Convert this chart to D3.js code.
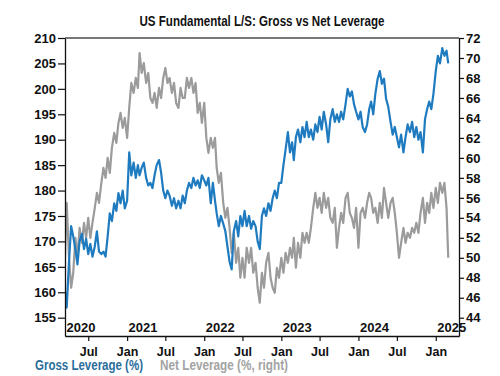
<!DOCTYPE html>
<html>
<head>
<meta charset="utf-8">
<script src="https://cdn.jsdelivr.net/npm/d3@7"></script>
<style>
  body { margin: 0; background: #fff; }
  svg { display: block; }
  .lbl { font-family: "Liberation Sans", Arial, sans-serif; font-weight: bold; }
</style>
</head>
<body>
<svg id="chart"></svg>
<script>
// one value every 10 days (1st, 11th, 21st of each month), from 11 Mar 2020 to 1 Mar 2025
const firstDate = "2020-03-11";
const lastDate = "2025-03-01";

// gross leverage (%), left axis
const gross = [
  161, 157,
  166, 173, 171,   168.5, 165.5, 170,   171.5, 168.5, 170.5,
  167.5, 169.5, 167,   169, 172, 168,   167.5, 168, 167,
  171, 175.5, 174,   177.5, 176, 179.5,   177.5, 180, 176.5,
  // 2021
  178, 187.5, 183,   185.5, 182.5, 185,   183, 184.5, 185.5,
  182.5, 181, 181.5,   180.5, 183, 185,   186, 183.5, 180,
  178.5, 180, 179,   177, 178.5, 176.5,   178, 176.5, 179,
  177.5, 180, 181.5,   180.5, 182.5, 181,   182, 180.5, 183,
  // 2022
  182, 181, 182.5,   177.5, 181.5, 178,   175.5, 173, 175,
  173.5, 172, 169,   166, 164.5, 172,   174, 171, 175,
  173, 176, 173,   175, 172.5, 174,   173, 170, 168.5,
  175, 176.5, 175,   177.5, 176, 178.5,   180, 178.5, 181.5,
  // 2023
  181.5, 185, 188,   191.5, 187.5, 189.5,   186, 190.5, 192,
  189.5, 192.5, 190.5,   193.5, 190.5, 192,   190, 193, 191.5,
  194.5, 192, 195.5,   193, 189.5, 194,   196, 193.5, 195,
  193.5, 195.5, 194,   197, 200, 198.5,   199.5, 197, 195.5,
  // 2024
  194, 195.5, 192.5,   191.5, 193, 196,   197.5, 195, 199,
  202, 203.5, 201,   202, 198, 196.5,   193.5, 191, 192.5,
  190.5, 188.5, 191,   187.5, 190.5, 193,   191.5, 193.5, 190.5,
  192.5, 190, 191.5,   187.5, 194, 196,   197.5, 196, 199,
  // 2025
  203.5, 206.5, 205,   208, 206.5, 207.5,
  205
];

// net leverage (%), right axis
const net = [
  49, 55.5,
  50, 47, 48.5,   52, 50, 53,   51.5, 53.5, 52,
  54, 52, 53.5,   55, 56.5, 55.5,   57.5, 59, 58,
  60, 58.5, 61,   62.5, 61.5, 63.5,   64.5, 63, 64,
  // 2021
  62, 65, 67.5,   66.5, 68, 67,   70.5, 68.5, 69.5,
  67.5, 68.5, 66,   65.5, 66.5, 65,   67, 66, 68,
  69, 67.5, 68,   66.5, 67.5, 65.5,   65, 67, 66,
  66, 68, 67,   68, 66.5, 67.5,   64.5, 65.5, 63.5,
  // 2022
  65.5, 62, 60.5,   62, 61, 62,   59, 57.5, 58.5,
  55.5, 54, 55,   53, 50.5, 52.5,   49.5, 51, 48,
  50, 48, 51,   49.5, 51, 48.5,   49.5, 47, 45.5,
  48.5, 47, 49.5,   50.5, 48, 47,   46.5, 49, 48,
  // 2023
  50, 48.5, 50.5,   49.5, 51, 50,   52, 49, 51.5,
  50, 52.5, 51.5,   52.5, 51.5, 53,   55, 56.5, 55,
  56, 54.5, 56.5,   55, 56, 54,   53.5, 55, 51,
  53, 54.5, 53.5,   56, 56.5, 54.5,   54, 53, 55,
  // 2024
  51, 54.5, 55,   54, 55.5, 56.5,   56, 54.5, 55,
  53.5, 55.5, 54,   57, 55.5, 54,   55.5, 56, 54.5,
  52.5, 50, 51.5,   53, 51.5, 52.5,   52, 53, 52.5,
  53.5, 52.5, 54.5,   56, 53.5, 55.5,   54.5, 56.5, 55,
  // 2025
  57, 55.5, 57.5,   56.5, 57.5, 55,
  50
];

const leftTicks = [155, 160, 165, 170, 175, 180, 185, 190, 195, 200, 205, 210];
const rightTicks = [44, 46, 48, 50, 52, 54, 56, 58, 60, 62, 64, 66, 68, 70, 72];
const years = ["2020", "2021", "2022", "2023", "2024", "2025"];

const title = "US Fundamental L/S: Gross vs Net Leverage";
const grossLabel = "Gross Leverage (%)";
const netLabel = "Net Leverage (%, right)";

const blue = "#1f7bbf";
const grey = "#9b9b9b";

// build the date of each value: 1st, 11th and 21st of each month
const parse = d3.timeParse("%Y-%m-%d");
const dates = [];
{
  let d = parse(firstDate);
  const end = parse(lastDate);
  while (d <= end) {
    dates.push(d);
    const day = d.getDate();
    d = day >= 21 ? new Date(d.getFullYear(), d.getMonth() + 1, 1) : new Date(d.getFullYear(), d.getMonth(), day + 10);
  }
}

const width = 500, height = 376;
const margin = { top: 38, right: 41, bottom: 40, left: 65 };
const innerW = width - margin.left - margin.right;
const innerH = height - margin.top - margin.bottom;

const svg = d3.select("#chart").attr("width", width).attr("height", height);

const chart = svg.append("g")
  .attr("transform", `translate(${margin.left},${margin.top})`);

const x = d3.scaleTime()
  .domain([parse("2020-03-13"), parse("2025-04-21")])
  .range([0, innerW]);
// both axes share the same pixel grid: 210 <-> 72, 155 <-> 44
const yLeft = d3.scaleLinear().domain([151.4, 210]).range([innerH, 0]);
const yRight = d3.scaleLinear().domain([42.17, 72]).range([innerH, 0]);

svg.append("defs").append("clipPath").attr("id", "clip")
  .append("rect").attr("width", innerW).attr("height", innerH);

// lines, net first so gross sits on top
const lines = chart.append("g").attr("clip-path", "url(#clip)");

lines.append("path")
  .datum(net)
  .attr("fill", "none")
  .attr("stroke", grey)
  .attr("stroke-width", 2.2)
  .attr("stroke-linejoin", "round")
  .attr("d", d3.line().x((d, i) => x(dates[i])).y(d => yRight(d)));

lines.append("path")
  .datum(gross)
  .attr("fill", "none")
  .attr("stroke", blue)
  .attr("stroke-width", 2.2)
  .attr("stroke-linejoin", "round")
  .attr("d", d3.line().x((d, i) => x(dates[i])).y(d => yLeft(d)));

// top border
chart.append("line")
  .attr("x1", 0).attr("x2", innerW)
  .attr("y1", 0).attr("y2", 0)
  .attr("stroke", "#777").attr("stroke-width", 2);

// left axis
const leftAxis = chart.append("g")
  .call(d3.axisLeft(yLeft).tickValues(leftTicks).tickSize(7).tickPadding(2).tickSizeOuter(0));

// right axis
const rightAxis = chart.append("g")
  .attr("transform", `translate(${innerW},0)`)
  .call(d3.axisRight(yRight).tickValues(rightTicks).tickSize(5).tickPadding(2).tickSizeOuter(0));

// bottom axis, ticks at Jan and Jul
const monthTicks = d3.timeMonth.every(6).range(parse("2020-07-01"), parse("2025-02-01"));
const bottomAxis = chart.append("g")
  .attr("transform", `translate(0,${innerH})`)
  .call(d3.axisBottom(x).tickValues(monthTicks).tickSize(5).tickPadding(6)
    .tickFormat(d3.timeFormat("%b")).tickSizeOuter(0));

[leftAxis, rightAxis, bottomAxis].forEach(g => {
  g.select(".domain").attr("stroke", "#111").attr("stroke-width", 1.3);
  g.selectAll(".tick line").attr("stroke", "#111").attr("stroke-width", 1.2);
  g.selectAll("text")
    .attr("class", "lbl")
    .attr("fill", "#111")
    .style("font-size", "13px");
});
bottomAxis.selectAll("text").style("font-size", "12.5px");

// year labels inside the plot, left aligned at each January
chart.append("g").selectAll("text")
  .data(years)
  .join("text")
  .attr("class", "lbl")
  .attr("x", d => Math.max(x(parse(d + "-01-01")), 0) + 1.5)
  .attr("y", innerH - 4.5)
  .attr("fill", "#111")
  .style("font-size", "13px")
  .text(d => d);

// title (narrow face in the original, so squeeze it to its width)
svg.append("text")
  .attr("class", "lbl")
  .attr("x", margin.left + innerW / 2)
  .attr("y", 26)
  .attr("text-anchor", "middle")
  .attr("fill", "#111")
  .attr("textLength", 245)
  .attr("lengthAdjust", "spacingAndGlyphs")
  .style("font-size", "14px")
  .text(title);

// legend
svg.append("text")
  .attr("class", "lbl")
  .attr("x", 35)
  .attr("y", 370)
  .attr("fill", "#2a6e9c")
  .attr("textLength", 108)
  .attr("lengthAdjust", "spacingAndGlyphs")
  .style("font-size", "14px")
  .text(grossLabel);

svg.append("text")
  .attr("class", "lbl")
  .attr("x", 160)
  .attr("y", 370)
  .attr("fill", "#a3a3a3")
  .attr("textLength", 128)
  .attr("lengthAdjust", "spacingAndGlyphs")
  .style("font-size", "14px")
  .text(netLabel);
</script>
</body>
</html>
